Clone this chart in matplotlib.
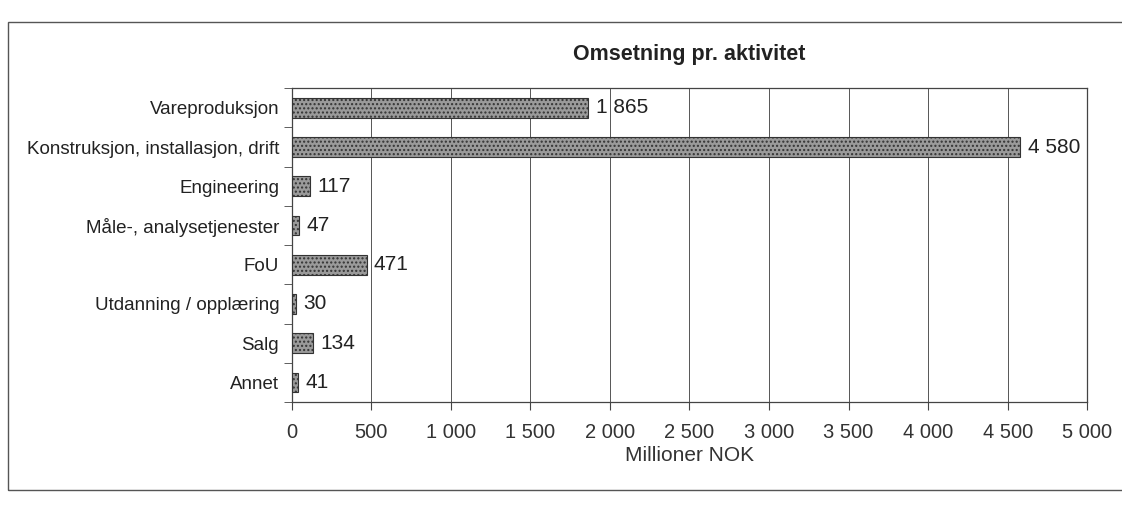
import matplotlib.pyplot as plt
import numpy as np
from matplotlib.patches import Rectangle
from matplotlib.ticker import FuncFormatter

categories = [
    "Vareproduksjon",
    "Konstruksjon, installasjon, drift",
    "Engineering",
    "Måle-, analysetjenester",
    "FoU",
    "Utdanning / opplæring",
    "Salg",
    "Annet",
]
values = [1865, 4580, 117, 47, 471, 30, 134, 41]
xticks = [0, 500, 1000, 1500, 2000, 2500, 3000, 3500, 4000, 4500, 5000]


def nok(v, pos=None):
    return f"{int(v):,}".replace(",", " ")


plt.rcParams["font.family"] = ["Liberation Sans", "DejaVu Sans"]

fig = plt.figure(figsize=(11.22, 5.07), dpi=100)
ax = fig.add_axes([0.26, 0.207, 0.709, 0.619])

y = np.arange(len(categories))
ax.barh(y, values, height=0.5, color="#9a9a9a", edgecolor="#333333",
        linewidth=0.8, hatch="....", zorder=3)
for yi, v in zip(y, values):
    ax.text(v + 45, yi, nok(v), va="center", ha="left", fontsize=15,
            color="#222222", zorder=4)

ax.set_xlim(0, 5000)
ax.set_ylim(len(categories) - 0.5, -0.5)
ax.set_xticks(xticks)
ax.xaxis.set_major_formatter(FuncFormatter(nok))
ax.set_yticks(y)
ax.set_yticklabels(categories)
ax.set_yticks(np.arange(len(categories) + 1) - 0.5, minor=True)
ax.tick_params(axis="y", which="major", length=0, labelsize=13.5, pad=9,
               labelcolor="#222222")
ax.tick_params(axis="y", which="minor", length=6, direction="out",
               color="#444444")
ax.tick_params(axis="x", length=6, direction="out", labelsize=14.5, pad=9,
               color="#444444", labelcolor="#333333")
ax.grid(axis="x", color="#555555", linewidth=0.7, zorder=0)
for s in ax.spines.values():
    s.set_color("#444444")
    s.set_linewidth(0.9)

ax.set_xlabel("Millioner NOK", fontsize=15, color="#333333", labelpad=3)
ax.set_title("Omsetning pr. aktivitet", fontsize=15.5, fontweight="bold",
             color="#222222", pad=20)

fig.add_artist(Rectangle((8 / 1122, 1 - 490 / 507), 1.2, (490 - 22) / 507,
                         transform=fig.transFigure, fill=False,
                         edgecolor="#555555", linewidth=1.0))

fig.savefig("out.png", dpi=100)
